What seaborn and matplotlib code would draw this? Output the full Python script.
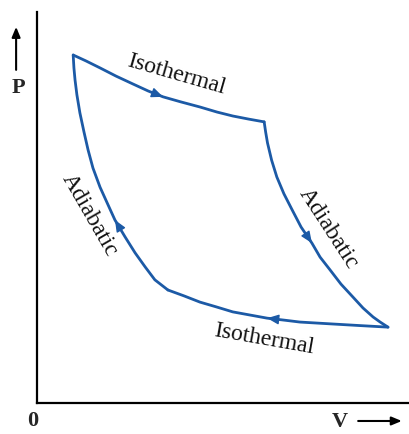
import matplotlib
matplotlib.use("Agg")
import matplotlib.pyplot as plt
import pandas as pd
import seaborn as sns

# Carnot cycle on a P-V diagram (arbitrary units, axes 0..10)
iso_hot_v = [0.97, 1.31, 1.69, 2.12, 2.57, 2.98, 3.38, 3.86, 4.37, 4.83, 5.25, 5.68, 6.09]
iso_hot_p = [8.90, 8.75, 8.57, 8.36, 8.16, 7.98, 7.83, 7.70, 7.57, 7.44, 7.34, 7.26, 7.19]

adi_exp_v = [6.09, 6.13, 6.18, 6.29, 6.43, 6.62, 6.84, 7.08, 7.37, 7.59, 7.86, 8.15,
             8.47, 8.74, 9.01, 9.20, 9.41]
adi_exp_p = [7.19, 6.93, 6.65, 6.21, 5.78, 5.35, 4.94, 4.50, 4.09, 3.73, 3.40, 3.04,
             2.71, 2.43, 2.20, 2.07, 1.94]

iso_cold_v = [9.41, 8.66, 7.94, 7.05, 6.62, 6.17, 5.71, 5.25, 4.80, 4.37, 3.94, 3.51]
iso_cold_p = [1.94, 1.98, 2.02, 2.07, 2.12, 2.17, 2.25, 2.33, 2.46, 2.58, 2.74, 2.89]

adi_comp_v = [3.51, 3.16, 2.90, 2.63, 2.36, 2.09, 1.88, 1.69, 1.50, 1.37, 1.26, 1.15,
              1.07, 1.02, 0.99, 0.97]
adi_comp_p = [2.89, 3.15, 3.48, 3.84, 4.25, 4.68, 5.12, 5.52, 6.01, 6.47, 6.93, 7.42,
              7.88, 8.26, 8.57, 8.90]

# (curve, index of arrowhead, label, label position, label rotation)
segments = [
    (iso_hot_v, iso_hot_p, 6, "Isothermal", (3.73, 8.40), -16),
    (adi_exp_v, adi_exp_p, 8, "Adiabatic", (7.80, 4.47), -57),
    (iso_cold_v, iso_cold_p, 5, "Isothermal", (6.09, 1.64), -10),
    (adi_comp_v, adi_comp_p, 5, "Adiabatic", (1.40, 4.80), -60),
]

blue = "#1c5aa6"

sns.set_style("white")
plt.rcParams["font.family"] = ["Liberation Serif", "DejaVu Serif"]

fig = plt.figure(figsize=(4.10, 4.34), dpi=100)
ax = fig.add_axes([37 / 410, 31 / 434, 373 / 410, 391 / 434])

for v, p, k, label, pos, rot in segments:
    df = pd.DataFrame({"V": v, "P": p})
    sns.lineplot(data=df, x="V", y="P", sort=False, color=blue, lw=2.0, ax=ax)
    # small arrowhead showing the direction round the cycle
    x0, y0 = v[k - 1], p[k - 1]
    x1, y1 = v[k], p[k]
    ax.annotate("", xy=(x1, y1),
                xytext=(x1 - 0.05 * (x1 - x0), y1 - 0.05 * (y1 - y0)),
                arrowprops=dict(arrowstyle="-|>,head_length=0.7,head_width=0.3",
                                color=blue, lw=1.0, shrinkA=0, shrinkB=0))
    ax.text(pos[0], pos[1], label, rotation=rot, fontsize=17, color="#111111",
            ha="center", va="center", rotation_mode="anchor")

ax.set_xlim(0, 10)
ax.set_ylim(0, 10)
ax.set_xticks([])
ax.set_yticks([])
ax.set_xlabel("")
ax.set_ylabel("")
for side in ["top", "right"]:
    ax.spines[side].set_visible(False)
for side in ["left", "bottom"]:
    ax.spines[side].set_color("black")
    ax.spines[side].set_linewidth(1.6)

# axis names with arrows, drawn as in the textbook figure
ax.text(-0.51, 8.06, "P", fontsize=16, fontweight="bold", ha="center",
        va="center", clip_on=False)
ax.annotate("", xy=(-0.56, 9.62), xytext=(-0.56, 8.52), annotation_clip=False,
            arrowprops=dict(arrowstyle="-|>,head_length=0.6,head_width=0.25",
                            color="black", lw=1.5, shrinkA=0, shrinkB=0))
ax.text(-0.11, -0.45, "0", fontsize=16, fontweight="bold", ha="center",
        va="center", clip_on=False)
ax.text(8.12, -0.49, "V", fontsize=16, fontweight="bold", ha="center",
        va="center", clip_on=False)
ax.annotate("", xy=(9.78, -0.46), xytext=(8.61, -0.46), annotation_clip=False,
            arrowprops=dict(arrowstyle="-|>,head_length=0.6,head_width=0.25",
                            color="black", lw=1.5, shrinkA=0, shrinkB=0))

fig.savefig("out.png", dpi=100, facecolor="white")
